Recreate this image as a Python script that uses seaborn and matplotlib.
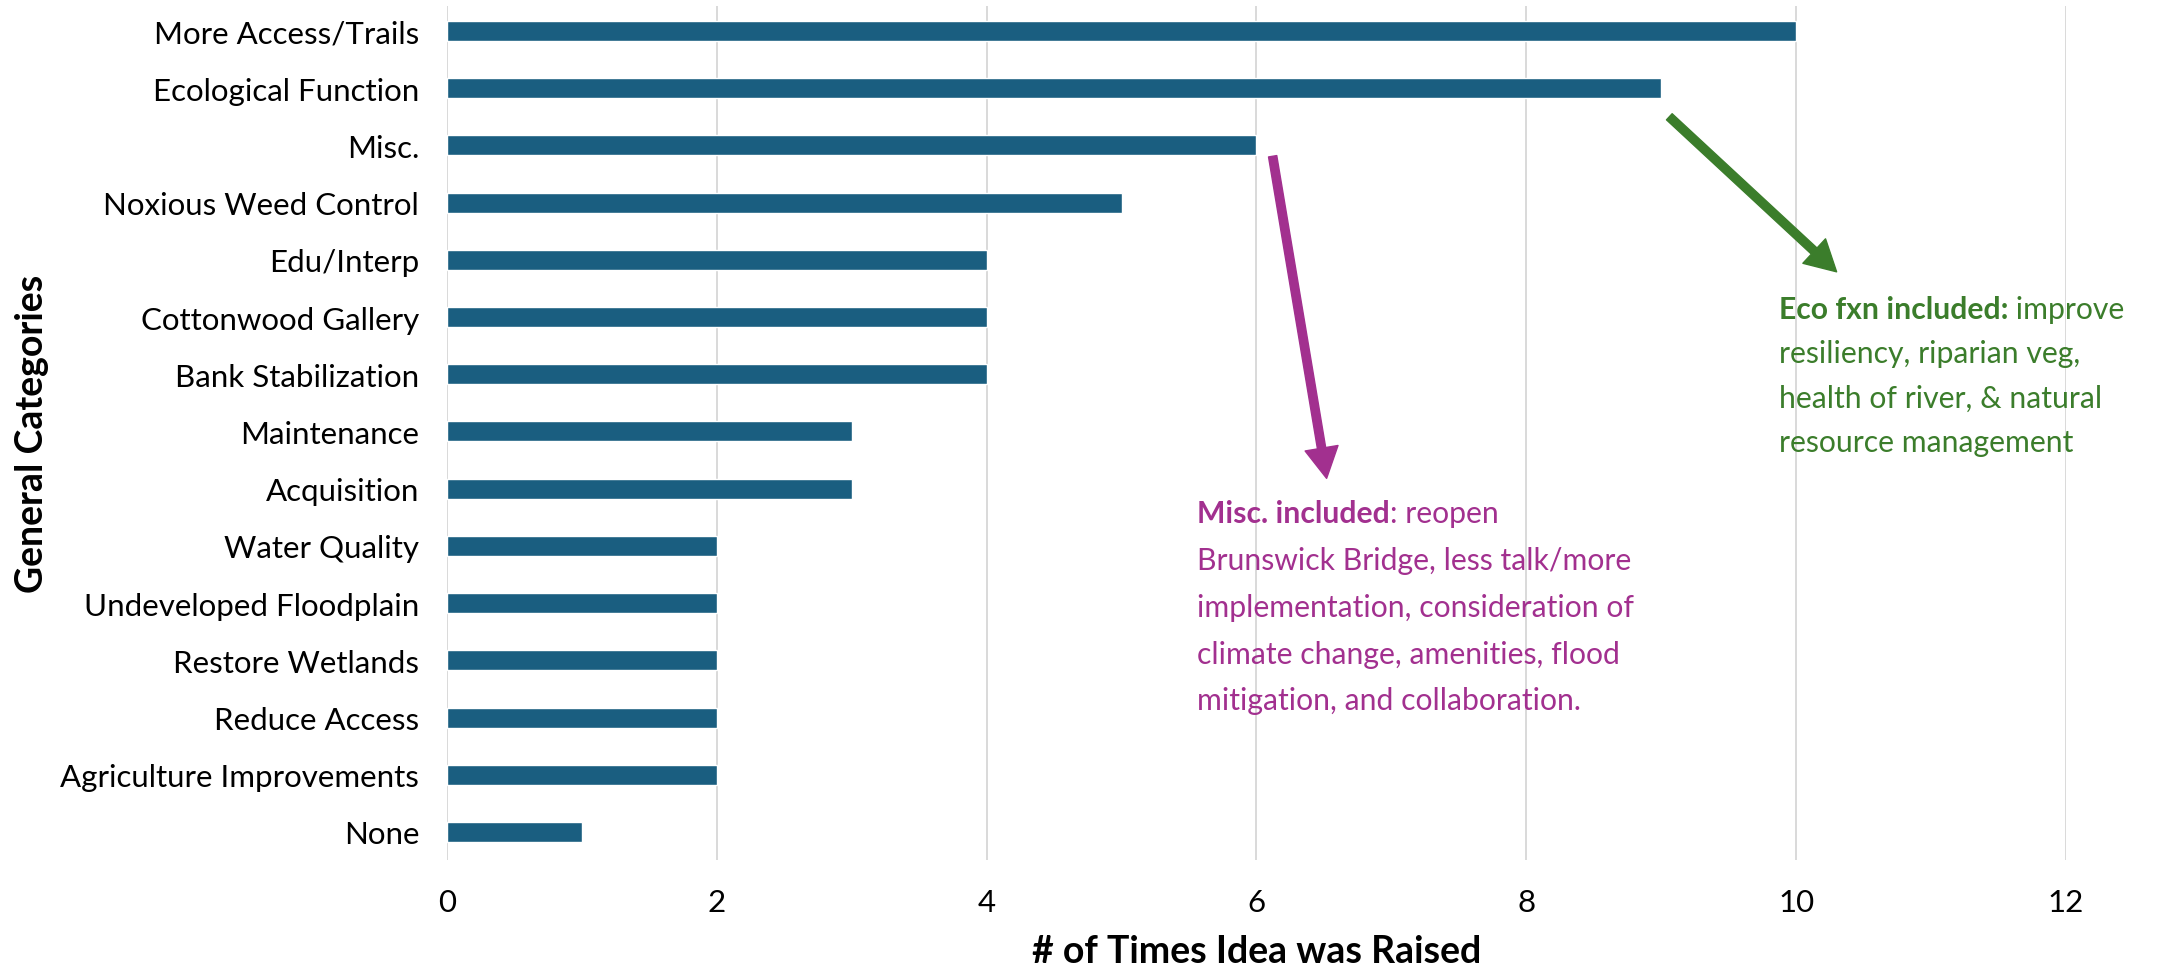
import matplotlib
matplotlib.use("Agg")
import matplotlib.pyplot as plt
import seaborn as sns


# ======================
# DATA
# ======================

categories = [
    "More Access/Trails",
    "Ecological Function",
    "Misc.",
    "Noxious Weed Control",
    "Edu/Interp",
    "Cottonwood Gallery",
    "Bank Stabilization",
    "Maintenance",
    "Acquisition",
    "Water Quality",
    "Undeveloped Floodplain",
    "Restore Wetlands",
    "Reduce Access",
    "Agriculture Improvements",
    "None",
]

times_raised = [10, 9, 6, 5, 4, 4, 4, 3, 3, 2, 2, 2, 2, 2, 1]

x_ticks = [0, 2, 4, 6, 8, 10, 12]

misc_head = "Misc. included"
misc_lines = [
    ": reopen",
    "Brunswick Bridge, less talk/more",
    "implementation, consideration of",
    "climate change, amenities, flood",
    "mitigation, and collaboration.",
]

eco_head = "Eco fxn included:"
eco_lines = [
    " improve",
    "resiliency, riparian veg,",
    "health of river, & natural",
    "resource management",
]


# ======================
# CONFIG
# ======================

sns.set_theme(style="whitegrid")
plt.rcParams["font.family"] = ["Lato", "DejaVu Sans"]

BAR = "#1a5e80"
PURPLE = "#a2308f"
GREEN = "#3b7d2b"
TICK_FS = 22.5
LABEL_FS = 27
NOTE_FS = 21.7


# ======================
# CHART
# ======================

fig = plt.figure(figsize=(21.77, 9.70), dpi=100)
ax = fig.add_axes([0.2053, 0.1124, 0.7437, 0.8806])

sns.barplot(
    x=times_raised,
    y=categories,
    orient="h",
    color=BAR,
    width=0.35,
    saturation=1,
    ax=ax
)

ax.set_xlim(0, 12)
ax.set_ylim(14.49, -0.44)
ax.set_xticks(x_ticks)
ax.grid(axis="y", visible=False)
ax.grid(axis="x", color="#d9d9d9", linewidth=1.4)
for s in ax.spines.values():
    s.set_visible(False)

ax.tick_params(axis="y", labelsize=TICK_FS, pad=20, length=0, colors="black")
ax.tick_params(axis="x", labelsize=TICK_FS, pad=20, length=0, colors="black")

ax.set_xlabel("# of Times Idea was Raised", fontsize=LABEL_FS,
              fontweight="bold", color="black")
ax.set_ylabel("General Categories", fontsize=LABEL_FS,
              fontweight="bold", color="black")
ax.xaxis.set_label_coords(0.5, -0.087)
ax.yaxis.set_label_coords(-0.246, 0.5)


# ======================
# ANNOTATIONS
# ======================

# purple arrow -> misc note
ax.annotate(
    "", xy=(6.52, 7.82), xytext=(6.12, 2.19),
    arrowprops=dict(color=PURPLE, width=6, headwidth=24, headlength=22,
                    shrink=0)
)

# green arrow -> eco note
ax.annotate(
    "", xy=(10.30, 4.21), xytext=(9.06, 1.50),
    arrowprops=dict(color=GREEN, width=6, headwidth=24, headlength=22,
                    shrink=0)
)


def note(x, y, head, lines, color, step):
    head_txt = ax.text(x, y, head, color=color, fontsize=NOTE_FS,
                       fontweight="bold", va="center", ha="left")
    ax.annotate(lines[0], xy=(1, 0), xycoords=head_txt, va="bottom",
                ha="left", color=color, fontsize=NOTE_FS)
    for i, line in enumerate(lines[1:], start=1):
        ax.annotate(line, xy=(x, y), xycoords="data",
                    xytext=(0, -step * i), textcoords="offset points",
                    va="center", ha="left", color=color, fontsize=NOTE_FS)


note(5.56, 8.43, misc_head, misc_lines, PURPLE, 33.7)
note(9.87, 4.86, eco_head, eco_lines, GREEN, 31.8)

plt.savefig("out.png", dpi=100)
plt.close()
